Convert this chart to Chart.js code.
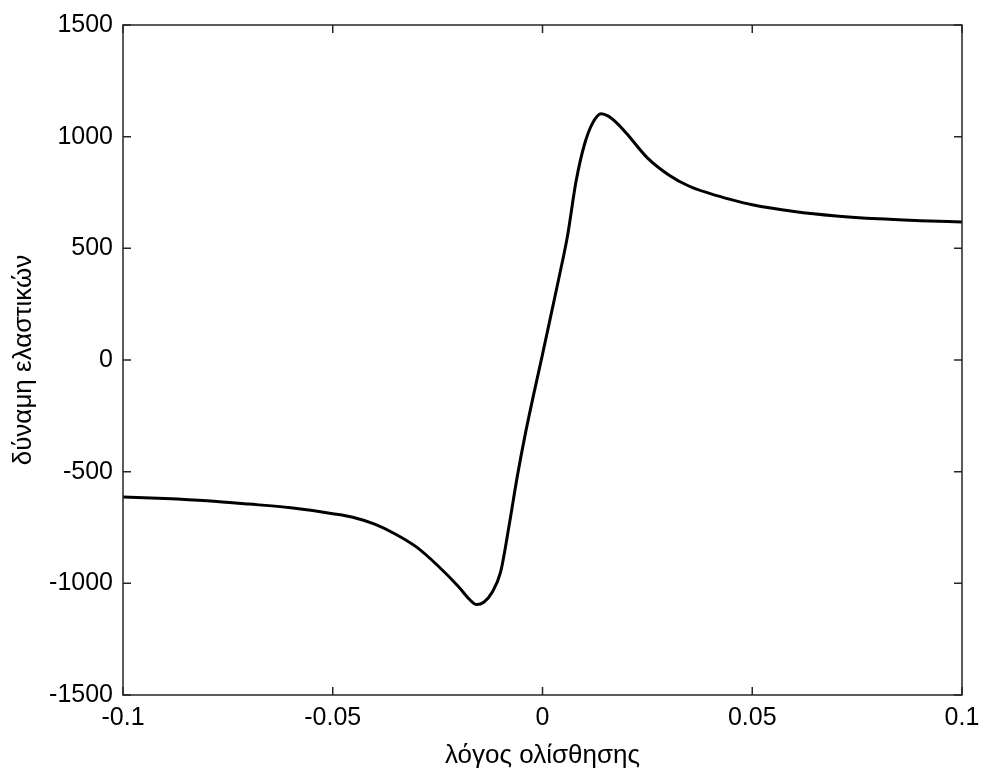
<!DOCTYPE html>
<html>
<head>
<meta charset="utf-8">
<script src="https://cdn.jsdelivr.net/npm/chart.js@4/dist/chart.umd.min.js"></script>
<style>
  body { margin: 0; background: #fff; }
</style>
</head>
<body>
<canvas id="chart" width="982" height="776"></canvas>
<script>
const slipRatio = [-0.1, -0.09, -0.08, -0.07, -0.06, -0.05, -0.045, -0.04, -0.035, -0.03, -0.025,
  -0.02, -0.0175, -0.0157, -0.014, -0.012, -0.01, -0.008, -0.006, -0.004, -0.002, 0,
  0.002, 0.004, 0.006, 0.008, 0.01, 0.012, 0.014, 0.0157, 0.0175, 0.02, 0.025, 0.03,
  0.035, 0.04, 0.045, 0.05, 0.06, 0.07, 0.08, 0.09, 0.1];
const tireForce = [-613, -620, -630, -645, -662, -688, -705, -735, -780, -838, -920,
  -1015, -1070, -1095, -1085, -1040, -950, -745, -520, -322, -145, 25,
  200, 375, 560, 800, 965, 1063, 1103, 1092, 1065, 1015, 905, 830,
  778, 745, 718, 695, 665, 645, 632, 624, 618];
const xTicks = [-0.1, -0.05, 0, 0.05, 0.1];
const xTickLabels = ['-0.1', '-0.05', '0', '0.05', '0.1'];
const yTicks = [-1500, -1000, -500, 0, 500, 1000, 1500];
const yTickLabels = ['-1500', '-1000', '-500', '0', '500', '1000', '1500'];

const ctx = document.getElementById('chart');

// MATLAB style box with ticks pointing inward
const boxPlugin = {
  id: 'box',
  afterDraw(chart) {
    const c = chart.ctx;
    const a = chart.chartArea;
    const len = 8;
    c.save();
    c.strokeStyle = '#262626';
    c.lineWidth = 1.5;
    c.strokeRect(a.left, a.top, a.right - a.left, a.bottom - a.top);
    c.beginPath();
    xTicks.forEach(v => {
      const px = chart.scales.x.getPixelForValue(v);
      c.moveTo(px, a.bottom); c.lineTo(px, a.bottom - len);
      c.moveTo(px, a.top); c.lineTo(px, a.top + len);
    });
    yTicks.forEach(v => {
      const py = chart.scales.y.getPixelForValue(v);
      c.moveTo(a.left, py); c.lineTo(a.left + len, py);
      c.moveTo(a.right, py); c.lineTo(a.right - len, py);
    });
    c.stroke();
    c.restore();
  }
};

new Chart(ctx, {
  type: 'line',
  data: {
    datasets: [{
      data: slipRatio.map((x, i) => ({x: x, y: tireForce[i]})),
      borderColor: '#000',
      borderWidth: 3,
      pointRadius: 0,
      cubicInterpolationMode: 'monotone',
      fill: false
    }]
  },
  options: {
    responsive: false,
    animation: false,
    devicePixelRatio: 1,
    layout: { padding: { top: 25, right: 20, left: 0, bottom: 0 } },
    scales: {
      x: {
        type: 'linear',
        min: -0.1,
        max: 0.1,
        afterBuildTicks: s => { s.ticks = xTicks.map(v => ({value: v})); },
        afterFit: s => { s.height = 81; s.paddingLeft = 0; s.paddingRight = 0; },
        ticks: {
          autoSkip: false,
          maxRotation: 0,
          padding: 8,
          color: '#000',
          font: { family: 'Liberation Sans, Arial', size: 25 },
          callback: (v, i) => xTickLabels[i]
        },
        grid: { display: false, drawTicks: false },
        border: { display: false },
        title: {
          display: true,
          text: 'λόγος ολίσθησης',
          color: '#000',
          font: { family: 'Liberation Sans, Arial', size: 26 },
          padding: { top: 0, bottom: 5 }
        }
      },
      y: {
        min: -1500,
        max: 1500,
        afterBuildTicks: s => { s.ticks = yTicks.map(v => ({value: v})); },
        afterFit: s => { s.width = 123; },
        ticks: {
          autoSkip: false,
          padding: 10,
          color: '#000',
          font: { family: 'Liberation Sans, Arial', size: 25 },
          callback: (v, i) => yTickLabels[i]
        },
        grid: { display: false, drawTicks: false },
        border: { display: false },
        title: {
          display: true,
          text: 'δύναμη ελαστικών',
          color: '#000',
          font: { family: 'Liberation Sans, Arial', size: 26 },
          padding: { top: 8, bottom: 0 }
        }
      }
    },
    plugins: {
      legend: { display: false },
      tooltip: { enabled: false }
    }
  },
  plugins: [boxPlugin]
});
</script>
</body>
</html>
